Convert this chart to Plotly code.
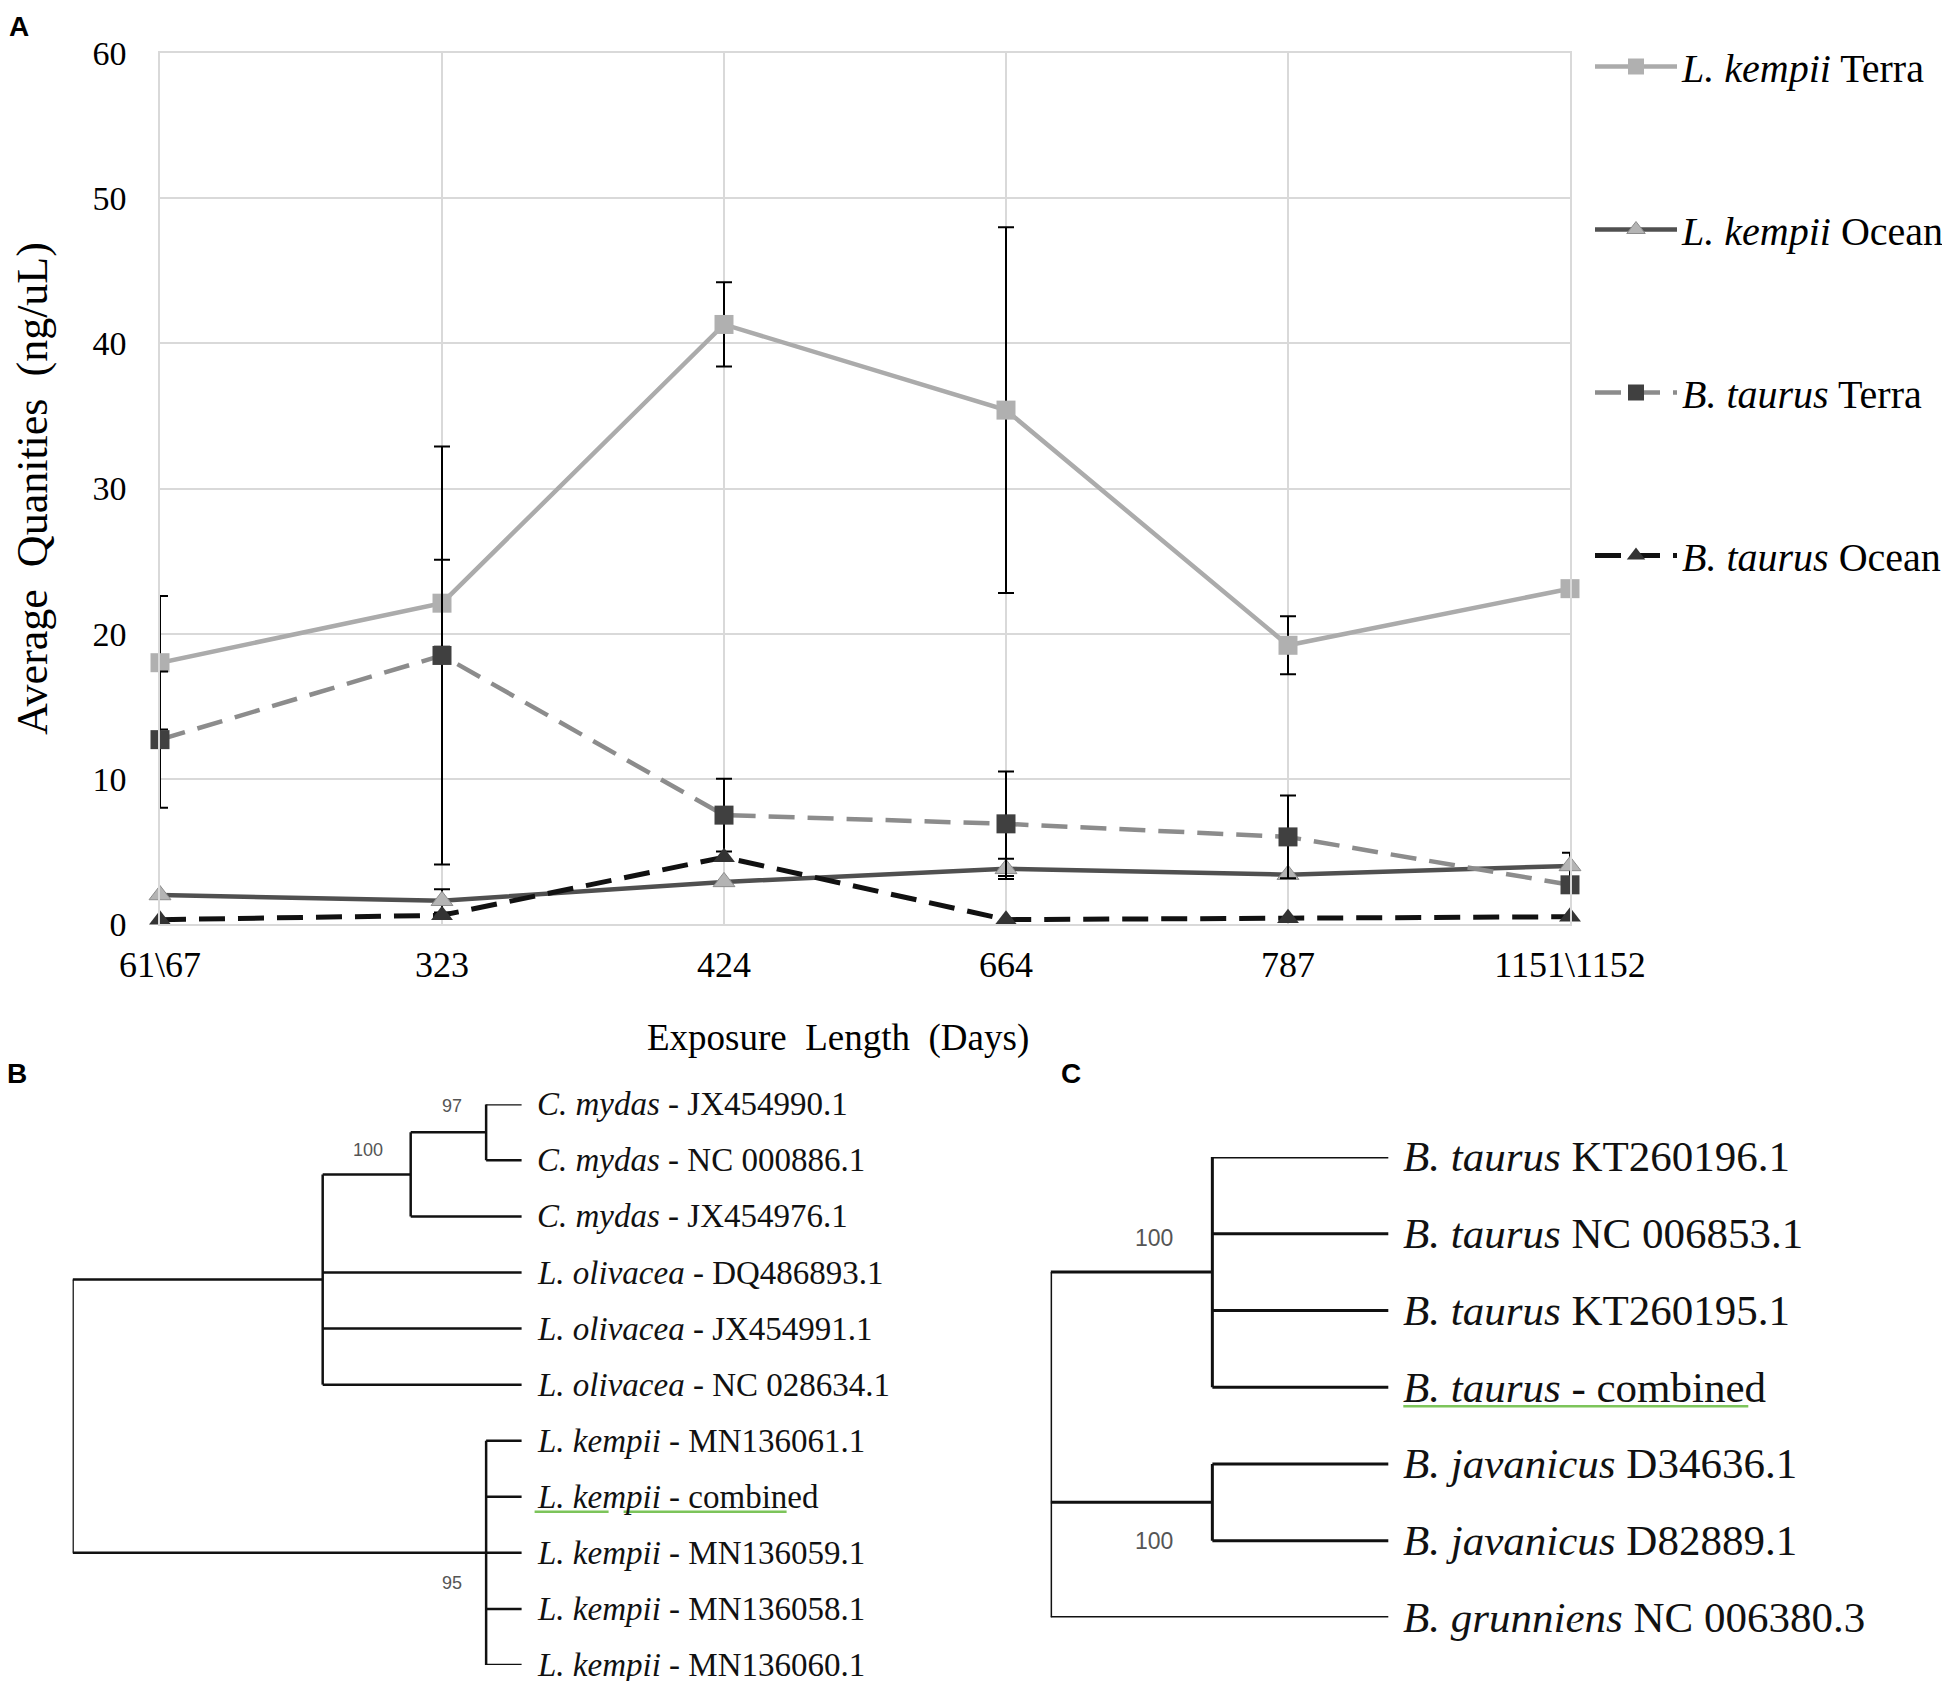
import plotly.graph_objects as go

# ---- panel A data (ng/uL) ----
days = ['61\\67', '323', '424', '664', '787', '1151\\1152']

kempii_terra = [18.0, 22.1, 41.3, 35.4, 19.2, 23.1]
kempii_terra_err = [4.6, 3.0, 2.9, 12.6, 2.0, None]
kempii_ocean = [2.0, 1.6, 2.9, 3.8, 3.4, 4.0]
kempii_ocean_err = [None, 0.8, None, 0.7, None, 0.9]
taurus_terra = [12.7, 18.5, 7.5, 6.9, 6.0, 2.7]
taurus_terra_err = [4.7, 14.4, 2.5, 3.6, 2.85, None]
taurus_ocean = [0.3, 0.6, 4.6, 0.3, 0.4, 0.5]

# ---- panel B / C trees: (branch length, support, [children]) or (branch length, leaf label) ----
turtle_tree = (0, None, [
    (0.557, None, [
        (0.196, 100, [
            (0.168, 97, [
                (0.079, '<i>C. mydas</i> - JX454990.1'),
                (0.079, '<i>C. mydas</i> - NC 000886.1'),
            ]),
            (0.247, '<i>C. mydas</i> - JX454976.1'),
        ]),
        (0.443, '<i>L. olivacea</i> - DQ486893.1'),
        (0.443, '<i>L. olivacea</i> - JX454991.1'),
        (0.443, '<i>L. olivacea</i> - NC 028634.1'),
    ]),
    (0.921, 95, [
        (0.079, '<i>L. kempii</i> - MN136061.1'),
        (0.079, '<i>L. kempii</i> - combined'),
        (0.079, '<i>L. kempii</i> - MN136059.1'),
        (0.079, '<i>L. kempii</i> - MN136058.1'),
        (0.079, '<i>L. kempii</i> - MN136060.1'),
    ]),
])

bovine_tree = (0, None, [
    (0.479, 100, [
        (0.521, '<i>B. taurus</i> KT260196.1'),
        (0.521, '<i>B. taurus</i> NC 006853.1'),
        (0.521, '<i>B. taurus</i> KT260195.1'),
        (0.521, '<i>B. taurus</i> - combined'),
    ]),
    (0.479, 100, [
        (0.521, '<i>B. javanicus</i> D34636.1'),
        (0.521, '<i>B. javanicus</i> D82889.1'),
    ]),
    (1.0, '<i>B. grunniens</i> NC 006380.3'),
])

W, H = 1950, 1681
OFF = 8   # the page puts the figure 8px in from the corner

# where each tree sits on the page (px): root x, leaf tip x, first leaf y, last leaf y
boxB = (72.6, 521.6, 1104.3, 1665)
boxC = (1050.6, 1388.3, 1156.9, 1617.5)


def layoutTree(node, x0, out):
    """Walk the tree, collecting branch segments, leaves and support nodes."""
    x = x0 + node[0]
    if isinstance(node[-1], str):
        y = len(out['leaves'])
        out['leaves'].append((x, y, node[-1]))
        out['segs'].append(((x0, y), (x, y)))
        return y
    ys = [layoutTree(child, x, out) for child in node[2]]
    y = (ys[0] + ys[-1]) / 2
    out['segs'].append(((x, ys[0]), (x, ys[-1])))
    if node[0] > 0:
        out['segs'].append(((x0, y), (x, y)))
    if node[1] is not None:
        out['nodes'].append((x, y, node[1]))
    return y


def treeTraces(tree, xa, ya, width, font_size):
    out = {'leaves': [], 'segs': [], 'nodes': []}
    layoutTree(tree, 0, out)
    xs, ys = [], []
    for (a, b) in out['segs']:
        xs += [a[0], b[0], None]
        ys += [a[1], b[1], None]
    line = go.Scatter(x=xs, y=ys, mode='lines', xaxis=xa, yaxis=ya,
                      line=dict(color='#111111', width=width),
                      showlegend=False, hoverinfo='skip')
    labels = [dict(x=lx, y=ly, text=txt, xref=xa, yref=ya, showarrow=False,
                   xanchor='left', yanchor='middle', xshift=13,
                   font=dict(family='Liberation Serif', size=font_size, color='#111111'))
              for lx, ly, txt in out['leaves']]
    return line, labels, out


def treeAxes(box, right_px, n_leaves):
    x0, x1, y0, y1 = [v - OFF for v in box]
    right_px -= OFF
    xaxis = dict(domain=[x0 / W, right_px / W], range=[0, (right_px - x0) / (x1 - x0)],
                 visible=False)
    yaxis = dict(domain=[1 - y1 / H, 1 - y0 / H], range=[n_leaves - 1, 0], visible=False)
    px_x = x1 - x0                       # px per unit of branch length
    px_y = (y1 - y0) / (n_leaves - 1)    # px per leaf
    return xaxis, yaxis, px_x, px_y


fig = go.Figure()

# ---- panel A ----
fig.add_trace(go.Scatter(x=days, y=kempii_terra, name='<i>L. kempii</i> Terra',
                         legendgroup='a', mode='lines+markers', cliponaxis=False,
                         line=dict(color='#ABABAB', width=4.5),
                         marker=dict(symbol='square', size=19, color='#B0B0B0'),
                         error_y=dict(type='data', array=kempii_terra_err, color='black',
                                      thickness=2, width=8)))
fig.add_trace(go.Scatter(x=days, y=kempii_ocean, name='<i>L. kempii</i> Ocean',
                         legendgroup='b', mode='lines+markers', cliponaxis=False,
                         line=dict(color='#505050', width=4.5),
                         marker=dict(symbol='triangle-up', size=19, color='#B4B4B4',
                                     line=dict(color='#8C8C8C', width=1)),
                         error_y=dict(type='data', array=kempii_ocean_err, color='black',
                                      thickness=2, width=8)))
fig.add_trace(go.Scatter(x=days, y=taurus_terra, name='<i>B. taurus</i> Terra',
                         legendgroup='c', mode='lines+markers', cliponaxis=False,
                         line=dict(color='#8C8C8C', width=4.5, dash='26px,13px'),
                         marker=dict(symbol='square', size=19, color='#404040'),
                         error_y=dict(type='data', array=taurus_terra_err, color='black',
                                      thickness=2, width=8)))
fig.add_trace(go.Scatter(x=days, y=taurus_ocean, name='<i>B. taurus</i> Ocean',
                         legendgroup='d', mode='lines+markers', cliponaxis=False,
                         line=dict(color='#111111', width=5, dash='26px,13px'),
                         marker=dict(symbol='triangle-up', size=19, color='#333333')))

# ---- panels B and C ----
lineB, labelsB, treeB = treeTraces(turtle_tree, 'x2', 'y2', 2.5, 33)
lineC, labelsC, treeC = treeTraces(bovine_tree, 'x3', 'y3', 3, 43)
fig.add_trace(lineB)
fig.add_trace(lineC)

xaxis2, yaxis2, pxB, pyB = treeAxes(boxB, 985, len(treeB['leaves']))
xaxis3, yaxis3, pxC, pyC = treeAxes(boxC, 1950, len(treeC['leaves']))

annotations = labelsB + labelsC

# bootstrap values, offset from their node
supportB = {97: (-34, 26), 100: (-43, 24), 95: (-34, -30)}
for nx, ny, val in treeB['nodes']:
    dx, dy = supportB[val]
    annotations.append(dict(x=nx, y=ny, text=str(val), xref='x2', yref='y2', showarrow=False,
                            xshift=dx, yshift=dy,
                            font=dict(family='Liberation Sans', size=18, color='#555555')))
for i, (nx, ny, val) in enumerate(treeC['nodes']):
    dy = 34 if i == 0 else -39
    annotations.append(dict(x=nx, y=ny, text=str(val), xref='x3', yref='y3', showarrow=False,
                            xshift=-58, yshift=dy,
                            font=dict(family='Liberation Sans', size=23, color='#555555')))

# green underline under the combined sequences
shapes = []
for lx, ly, txt in treeB['leaves']:
    if 'combined' in txt:
        for a, b in [(13, 87), (102, 265)]:
            shapes.append(dict(type='line', xref='x2', yref='y2',
                               x0=lx + a / pxB, x1=lx + b / pxB,
                               y0=ly + 15 / pyB, y1=ly + 15 / pyB,
                               line=dict(color='#7CC45A', width=2.5)))
for lx, ly, txt in treeC['leaves']:
    if 'combined' in txt:
        shapes.append(dict(type='line', xref='x3', yref='y3',
                           x0=lx + 15 / pxC, x1=lx + 360 / pxC,
                           y0=ly + 19 / pyC, y1=ly + 19 / pyC,
                           line=dict(color='#7CC45A', width=2.5)))

for letter, px_x, px_y in [('A', 19, 27), ('B', 17, 1073), ('C', 1071, 1073)]:
    annotations.append(dict(x=(px_x - OFF) / W, y=1 - (px_y - OFF) / H,
                            xref='paper', yref='paper', xanchor='center', yanchor='middle',
                            text=f'<b>{letter}</b>', showarrow=False,
                            font=dict(family='Liberation Sans', size=28, color='black')))

# x title sits a little left of the plot centre, as in the original
annotations.append(dict(x=(838 - OFF) / W, y=1 - (1038 - OFF) / H, xref='paper', yref='paper',
                        xanchor='center', yanchor='middle', showarrow=False,
                        text='Exposure\u00a0 Length\u00a0 (Days)',
                        font=dict(family='Liberation Serif', size=37, color='black')))

fig.update_layout(width=W, height=H, margin=dict(l=0, r=0, t=0, b=0),
                  paper_bgcolor='white', plot_bgcolor='white',
                  font=dict(family='Liberation Serif', size=36, color='black'),
                  annotations=annotations, shapes=shapes)

fig.update_layout(xaxis=dict(domain=[(160 - OFF) / W, (1570 - OFF) / W], range=[0, 5],
                             type='category',
                             showgrid=True, gridcolor='#D9D9D9', gridwidth=1.5,
                             showline=True, linecolor='#D9D9D9', linewidth=1.5, mirror=True,
                             zeroline=False, ticks='', tickfont=dict(size=36),
                             ticklabelstandoff=8, automargin=False),
                  yaxis=dict(domain=[1 - (924 - OFF) / H, 1 - (53 - OFF) / H],
                             range=[0, 60], dtick=10,
                             showgrid=True, gridcolor='#D9D9D9', gridwidth=1.5,
                             showline=True, linecolor='#D9D9D9', linewidth=1.5, mirror=True,
                             zeroline=False, ticks='', tickfont=dict(size=34),
                             ticklabelstandoff=25, automargin=False,
                             title=dict(text='Average\u00a0 Quanities\u00a0 (ng/uL)',
                                        font=dict(size=44), standoff=42)))

xaxis2['anchor'] = 'y2'
yaxis2['anchor'] = 'x2'
xaxis3['anchor'] = 'y3'
yaxis3['anchor'] = 'x3'
fig.update_layout(xaxis2=xaxis2, yaxis2=yaxis2, xaxis3=xaxis3, yaxis3=yaxis3)

fig.update_layout(showlegend=True,
                  legend=dict(x=1582 / W, y=1 - 26 / H, xanchor='left', yanchor='top',
                              font=dict(family='Liberation Serif', size=40),
                              itemwidth=82, tracegroupgap=108, bgcolor='rgba(0,0,0,0)'))

fig.write_html('out.html')
